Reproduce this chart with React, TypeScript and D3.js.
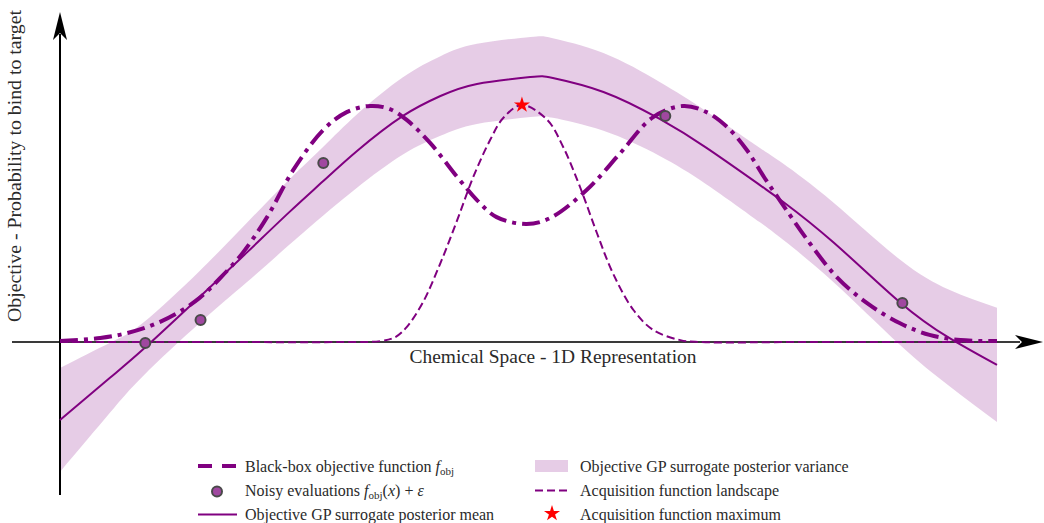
import React from "react";
import * as d3 from "d3";

// ---- Data (x: 1D chemical space, 0..10 ; y: objective value) ----
const objX = [0, 0.43, 0.72, 0.99, 1.25, 1.49, 1.71, 1.95, 2.21, 2.49, 2.81, 3.06, 3.31, 3.52, 3.7, 3.95, 4.24, 4.45, 4.66, 4.98, 5.23, 5.62, 5.98, 6.33, 6.65, 6.9, 7.12, 7.33, 7.52, 7.68, 8.0, 8.29, 8.61, 8.96, 9.28, 9.61, 10.0];
const objY = [0.004, 0.017, 0.038, 0.072, 0.122, 0.186, 0.27, 0.376, 0.527, 0.726, 0.895, 0.97, 0.996, 0.983, 0.937, 0.84, 0.696, 0.599, 0.527, 0.498, 0.523, 0.641, 0.797, 0.949, 0.996, 0.97, 0.907, 0.81, 0.692, 0.599, 0.418, 0.274, 0.165, 0.08, 0.03, 0.008, 0.004];

const gpX = [0, 0.53, 0.89, 1.49, 1.99, 2.45, 2.81, 3.17, 3.66, 4.06, 4.45, 5.02, 5.26, 5.8, 6.4, 6.9, 7.47, 7.72, 8.25, 8.96, 9.49, 10.0];
const gpMean = [-0.329, -0.152, -0.03, 0.19, 0.376, 0.549, 0.679, 0.806, 0.954, 1.038, 1.089, 1.118, 1.114, 1.055, 0.941, 0.819, 0.662, 0.591, 0.422, 0.169, 0.017, -0.097];
const gpSd = [0.219, 0.148, 0.112, 0.11, 0.125, 0.138, 0.145, 0.155, 0.163, 0.168, 0.169, 0.169, 0.168, 0.164, 0.156, 0.154, 0.157, 0.161, 0.168, 0.18, 0.203, 0.241];

const acqX = [0, 1.5, 3.0, 3.42, 3.58, 3.7, 3.87, 4.06, 4.24, 4.41, 4.59, 4.73, 4.93, 5.2, 5.37, 5.55, 5.73, 5.9, 6.12, 6.33, 6.62, 6.83, 8.0, 10.0];
const acqY = [0, 0, 0, 0.004, 0.021, 0.063, 0.165, 0.333, 0.515, 0.696, 0.852, 0.945, 1.0, 0.937, 0.823, 0.654, 0.46, 0.291, 0.135, 0.051, 0.008, 0, 0, 0];

const obsX = [0.91, 1.5, 2.81, 6.46, 8.99];
const obsY = [-0.004, 0.093, 0.755, 0.954, 0.165];

const acqMaxX = [4.93];
const acqMaxY = [1.0];

const legendLeft = ["Black-box objective function", "Noisy evaluations", "Objective GP surrogate posterior mean"];
const legendRight = ["Objective GP surrogate posterior variance", "Acquisition function landscape", "Acquisition function maximum"];

const W = 1044;
const H = 523;
const PURPLE = "#800080";
const FONT = "'Liberation Serif', 'DejaVu Serif', serif";
const TXT = "#2a2a2a";

export default function App() {
  const x = d3.scaleLinear().domain([0, 10]).range([60, 997]);
  const y = d3.scaleLinear().domain([0, 1]).range([342, 105]);
  const curve = d3.curveCatmullRom.alpha(0.5);

  const line = d3
    .line<[number, number]>()
    .x((d) => x(d[0]))
    .y((d) => y(d[1]))
    .curve(curve);
  const smoothLine = d3
    .line<[number, number]>()
    .x((d) => x(d[0]))
    .y((d) => y(d[1]))
    .curve(d3.curveNatural);

  const objPath = line(objX.map((v, i) => [v, objY[i]]) as [number, number][]) || "";
  const meanPath = smoothLine(gpX.map((v, i) => [v, gpMean[i]]) as [number, number][]) || "";
  const acqPath = line(acqX.map((v, i) => [v, acqY[i]]) as [number, number][]) || "";

  const band = d3
    .area<number>()
    .x((d) => x(gpX[d]))
    .y0((d) => y(gpMean[d] - gpSd[d]))
    .y1((d) => y(gpMean[d] + gpSd[d]))
    .curve(d3.curveNatural);
  const bandPath = band(gpX.map((_, i) => i)) || "";

  const star = d3.symbol().type(d3.symbolStar).size(80)() || "";

  const y0 = y(0);
  const axX = x(0);

  const rowsY = [466, 490.5, 514.5];

  return (
    <svg
      width={W}
      height={H}
      viewBox={`0 0 ${W} ${H}`}
      style={{ position: "absolute", left: 0, top: 0, background: "#fff" }}
    >
      <rect x={0} y={0} width={W} height={H} fill="#fff" />
      {/* variance band */}
      <path d={bandPath} fill={PURPLE} fillOpacity={0.2} stroke="none" />

      {/* axes */}
      <line x1={12} y1={y0} x2={1020} y2={y0} stroke="#3a3a3a" strokeWidth={2} />
      <path d={`M1043,${y0} L1015,${y0 - 7} L1022,${y0} L1015,${y0 + 7} Z`} fill="#000" />
      <line x1={axX} y1={495} x2={axX} y2={34} stroke="#000" strokeWidth={2} />
      <path d={`M${axX},12 L${axX - 7},40 L${axX},33 L${axX + 7},40 Z`} fill="#000" />

      {/* GP mean */}
      <path d={meanPath} fill="none" stroke={PURPLE} strokeWidth={2} />
      {/* objective */}
      <path d={objPath} fill="none" stroke={PURPLE} strokeWidth={4} strokeDasharray="18,6,4,6" />
      {/* acquisition */}
      <path d={acqPath} fill="none" stroke={PURPLE} strokeWidth={2} strokeDasharray="8,4" />

      {/* observations */}
      {obsX.map((v, i) => (
        <circle key={i} cx={x(v)} cy={y(obsY[i])} r={5} fill="#a048a0" stroke="#4a4a4a" strokeWidth={2} />
      ))}

      {/* acquisition maximum */}
      {acqMaxX.map((v, i) => (
        <path key={i} d={star} transform={`translate(${x(v)},${y(acqMaxY[i])})`} fill="#ff0000" />
      ))}

      {/* axis labels */}
      <text
        x={553}
        y={363}
        textAnchor="middle"
        fontFamily={FONT}
        fontSize={19.5}
        fill={TXT}
        textLength={287}
        lengthAdjust="spacingAndGlyphs"
      >
        Chemical Space - 1D Representation
      </text>
      <text
        transform="translate(21,166) rotate(-90)"
        textAnchor="middle"
        fontFamily={FONT}
        fontSize={19.5}
        fill={TXT}
        textLength={312}
        lengthAdjust="spacingAndGlyphs"
      >
        Objective - Probability to bind to target
      </text>

      {/* legend left */}
      <g fontFamily={FONT} fontSize={16} fill={TXT}>
        <line x1={198} y1={rowsY[0]} x2={237} y2={rowsY[0]} stroke={PURPLE} strokeWidth={4} strokeDasharray="14,10" />
        <text x={245} y={rowsY[0] + 5.5}>
          {legendLeft[0] + " "}
          <tspan fontStyle="italic">f</tspan>
          <tspan fontSize={11} dy={3}>obj</tspan>
        </text>

        <circle cx={217} cy={rowsY[1] + 1} r={5} fill="#a048a0" stroke="#4a4a4a" strokeWidth={2} />
        <text x={245} y={rowsY[1] + 5.5}>
          {legendLeft[1] + " "}
          <tspan fontStyle="italic">f</tspan>
          <tspan fontSize={11} dy={3}>obj</tspan>
          <tspan dy={-3}>(</tspan>
          <tspan fontStyle="italic">x</tspan>
          <tspan>{") + "}</tspan>
          <tspan fontStyle="italic">ε</tspan>
        </text>

        <line x1={198} y1={rowsY[2]} x2={237} y2={rowsY[2]} stroke={PURPLE} strokeWidth={2} />
        <text x={245} y={rowsY[2] + 5.5}>{legendLeft[2]}</text>

        {/* legend right */}
        <rect x={535} y={rowsY[0] - 6} width={33} height={12} fill={PURPLE} fillOpacity={0.2} />
        <text x={580} y={rowsY[0] + 5.5}>{legendRight[0]}</text>

        <line x1={535} y1={rowsY[1]} x2={568} y2={rowsY[1]} stroke={PURPLE} strokeWidth={2} strokeDasharray="8,4" />
        <text x={580} y={rowsY[1] + 5.5}>{legendRight[1]}</text>

        <path d={star} transform={`translate(552,${rowsY[2] - 1})`} fill="#ff0000" />
        <text x={580} y={rowsY[2] + 5.5}>{legendRight[2]}</text>
      </g>
    </svg>
  );
}
